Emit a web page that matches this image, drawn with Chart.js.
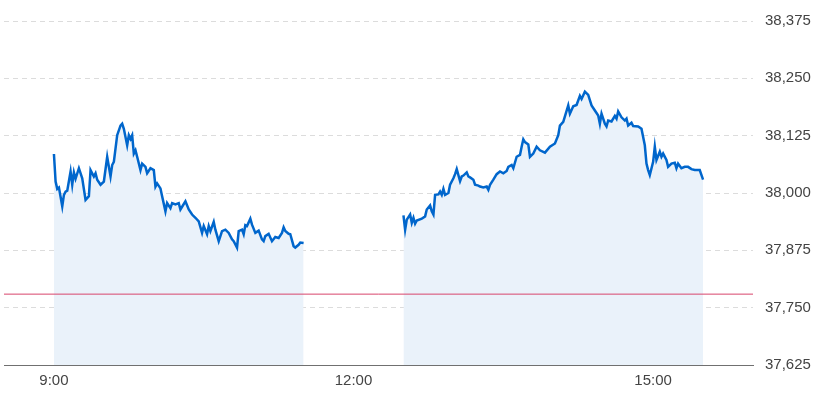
<!DOCTYPE html>
<html>
<head>
<meta charset="utf-8">
<script src="https://cdn.jsdelivr.net/npm/chart.js@4.4.1/dist/chart.umd.min.js"></script>
<style>
html,body{margin:0;padding:0;background:#fff;}
#wrap{width:820px;height:395px;}
</style>
</head>
<body>
<div id="wrap"><canvas id="c" width="820" height="395"></canvas></div>
<script>
// times in minutes since midnight
const amTimes = [540,541,542,543,545,546,547,548,550,551,552,553,555,557,559,561,562,564,565,566,568,570,572,574,575,576,578,580,581,582,584,585,586,587,588,589,590,592,593,595,596,598,600,601,602,604,605,607,608,610,611,613,615,616,619,621,623,625,627,629,630,632,633,634,636,637,639,641,643,645,647,648,650,651,653,654,655,656,658,659,661,663,665,666,667,669,671,673,675,677,678,679,681,682,684,685,687,688,690];
const amValues = [38085,38025,38009,38012,37971,37996,38003,38005,38047,38018,38045,38031,38054,38032,37985,37993,38050,38036,38043,38029,38018,38025,38079,38036,38061,38068,38126,38147,38151,38140,38104,38126,38118,38126,38086,38093,38079,38050,38064,38057,38043,38054,38050,38014,38021,38010,37993,37960,37978,37967,37978,37975,37978,37964,37982,37964,37953,37946,37938,37913,37928,37910,37928,37917,37937,37920,37895,37917,37920,37913,37899,37895,37881,37917,37920,37910,37930,37928,37944,37931,37913,37918,37899,37895,37906,37911,37895,37904,37902,37913,37925,37917,37911,37910,37884,37881,37887,37892,37891];
const pmTimes = [750,751,752,754,755,756,757,758,761,763,764,766,767,768,769,771,772,773,774,775,777,778,780,781,782,784,785,786,788,789,790,792,793,795,796,798,800,801,802,804,806,808,810,812,813,815,816,818,820,821,822,823,825,826,828,830,832,835,838,841,843,844,846,849,850,852,854,856,857,859,861,863,865,867,868,869,871,872,873,875,877,878,879,881,883,884,885,887,888,891,893,895,896,897,898,900,901,902,904,905,906,908,909,911,913,914,915,917,919,921,923,925,928,930];
const pmValues = [37951,37920,37942,37953,37935,37946,37933,37940,37944,37949,37964,37973,37960,37953,37996,37997,38003,37996,38009,37996,38000,38018,38032,38041,38052,38026,38036,38038,38045,38036,38034,38029,38018,38016,38014,38012,38014,38007,38018,38029,38041,38047,38043,38048,38057,38061,38054,38079,38083,38101,38117,38111,38106,38079,38086,38101,38093,38088,38101,38108,38126,38147,38155,38191,38173,38189,38192,38212,38205,38221,38214,38191,38180,38169,38151,38173,38151,38145,38158,38156,38168,38162,38178,38165,38158,38162,38147,38153,38146,38145,38140,38104,38064,38050,38039,38068,38101,38072,38090,38079,38086,38072,38057,38064,38066,38054,38064,38054,38057,38057,38052,38050,38050,38029];
const prevClose = 37779.5;
const xTickValues = [540, 720, 900];
const xTickLabels = ['9:00', '12:00', '15:00'];
const yTickValues = [37625, 37750, 37875, 38000, 38125, 38250, 38375];

const toPts = (t, v) => t.map((x, i) => ({x: x, y: v[i]}));
const lineColor = '#0066cc';
const fillColor = '#eaf2fa';

new Chart(document.getElementById('c'), {
  type: 'line',
  data: {
    datasets: [
      {data: toPts(amTimes, amValues), borderColor: lineColor, backgroundColor: fillColor, borderWidth: 2.5, pointRadius: 0, fill: 'start', tension: 0, order: 2},
      {data: toPts(pmTimes, pmValues), borderColor: lineColor, backgroundColor: fillColor, borderWidth: 2.5, pointRadius: 0, fill: 'start', tension: 0, order: 2},
      {data: [{x: 510, y: prevClose}, {x: 960, y: prevClose}], borderColor: '#d8456b', borderWidth: 1, pointRadius: 0, fill: false, order: 1}
    ]
  },
  options: {
    responsive: false,
    animation: false,
    devicePixelRatio: 1,
    layout: {padding: {left: 4, top: 18, right: 0, bottom: 0}},
    plugins: {legend: {display: false}, tooltip: {enabled: false}},
    scales: {
      x: {
        type: 'linear', min: 510, max: 960,
        afterBuildTicks: s => { s.ticks = xTickValues.map(v => ({value: v})); },
        afterFit: s => { s.height = 30; },
        grid: {display: false, drawTicks: false},
        border: {display: true, color: '#707070', width: 1},
        ticks: {
          padding: 7, color: '#444', font: {family: 'Liberation Sans, Arial', size: 15},
          maxRotation: 0, autoSkip: false,
          callback: v => xTickLabels[xTickValues.indexOf(v)]
        }
      },
      y: {
        position: 'right', min: 37625, max: 38375,
        afterBuildTicks: s => { s.ticks = yTickValues.map(v => ({value: v})); },
        afterFit: s => { s.width = 67; },
        grid: {color: '#dcdcdc', drawTicks: false, lineWidth: 1},
        border: {display: false, dash: [5, 4]},
        ticks: {
          padding: 12, color: '#444', font: {family: 'Liberation Sans, Arial', size: 15},
          callback: v => v.toLocaleString('en-US')
        }
      }
    }
  }
});
</script>
</body>
</html>
